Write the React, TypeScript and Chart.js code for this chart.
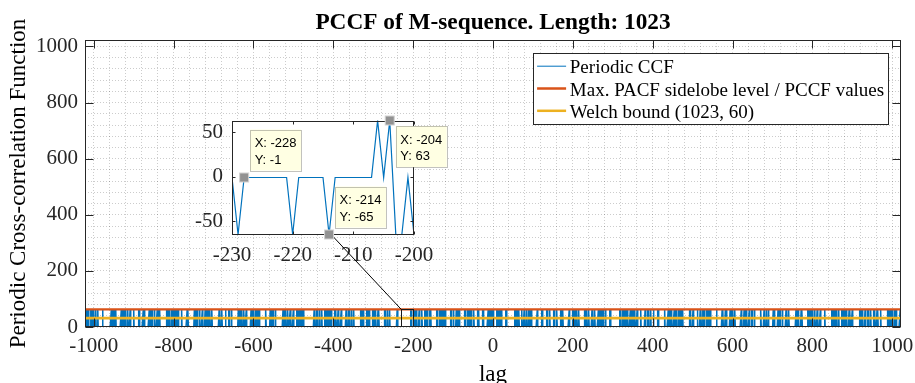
import React, { useEffect, useRef } from "react";
import { Chart, registerables } from "chart.js";

Chart.register(...registerables);

// ---------- data ----------
const LAG_MIN = -1022;
const LAG_MAX = 1022;

// Periodic CCF of the M-sequence pair, one symbol per lag starting at LAG_MIN.
// '0' = -1, '-' = -65, '+' = 63 (groups of ten lags, spaces are only for reading)
const CCF_ROWS = [
  "0+0+00-0+0 0-00+0+000 +0+0-00+00 00+0-00000 0000+00-00",
  "00000-0000 -00000+0+0 0+-0+00+0- 000-000000 0+0+00-0+0",
  "+0+0-00+00 000+000-00 00+0-00000 0-00+0+000 -00000+0+0",
  "000-000000 0+0+00-0+0 0000+00-00 0+-0+00+0- 00000-0000",
  "0-00+0+000 +0+0-00+00 0+0+00-0+0 000+000-00 00+0-00000",
  "-00000+0+0 00000-0000 0-00+0+000 +0+0-00+00 0000+00-00",
  "0+-0+00+0- 0+0+00-0+0 000-000000 -00000+0+0 000+000-00",
  "00+0-00000 +0+0-00+00 00000-0000 0-00+0+000 0+0+00-0+0",
  "0000+00-00 -00000+0+0 0+0+00-0+0 0+-0+00+0- 000-000000",
  "000+000-00 0-00+0+000 +0+0-00+00 00000-0000 -00000+0+0",
  "0+0+00-0+0 0000+00-00 00+0-00000 +0+0-00+00 0+-0+00+0-",
  "00000-0000 000-000000 0-00+0+000 0+0+00-0+0 000+000-00",
  "+0+0-00+00 0+-0+00+0- -00000+0+0 0000+00-00 00+0-00000",
  "0-00+0+000 0+0+00-0+0 000+000-00 000-000000 +0+0-00+00",
  "-00000+0+0 00+0-00000 0+-0+00+0- 0-00+0+000 00000-0000",
  "0+0+00-0+0 000+000-00 000-000000 00+0-00000 000-000000",
  "00-00000-0 000000+0+- -0-+0+0-00 +000000+00 -000+0-000",
  "0+-0+00+0- 0-00+0+000 00000-0000 0+0+00-0+0 +0+0-00+00",
  "00+0-00000 -00000+0+0 000+000-00 +0+0-00+00 000-000000",
  "0+0+00-0+0 0+-0+00+0- 0000+00-00 0-00+0+000 -00000+0+0",
  "00000-0000 +0+0-00+00 00+0-00000 0+0+00-0+0 000+000-00",
  "0-00+0+000 000-000000 -00000+0+0 0+-0+00+0- 0000+00-00",
  "+0+0-00+00 0+0+00-0+0 00000-0000 000+000-00 0-00+0+000",
  "-00000+0+0 0000+00-00 0-00+0+000 00+0-00000 0+-0+00+0-",
  "000-000000 000+000-00 0+0+00-0+0 +0+0-00+00 00000-0000",
  "0+-0+00+0- 00+0-00000 +0+0-00+00 -00000+0+0 0+0+00-0+0",
  "0000+00-00 0-00+0+000 000-000000 00000-0000 +0+0-00+00",
  "0+0+00-0+0 -00000+0+0 0+-0+00+0- 000+000-00 00+0-00000",
  "000+000-00 +0+0-00+00 0000+00-00 0-00+0+000 000-000000",
  "00+0-00000 0+0+00-0+0 -00000+0+0 +0+0-00+00 0+-0+00+0-",
  "00000-0000 0-00+0+000 000+000-00 0000+00-00 0+0+00-0+0",
  "+0+0-00+00 0+-0+00+0- 000-000000 00+0-00000 -00000+0+0",
  "0-00+0+000 -00000+0+0 0+0+00-0+0 00000-0000 0000+00-00",
  "0+-0+00+0- 0000+00-00 +0+0-00+00 000-000000 000+000-00",
  "0+0+00-0+0 00+0-00000 0-00+0+000 -00000+0+0 +0+0-00+00",
  "-00000+0+0 000+000-00 00000-0000 0+-0+00+0- 0-00+0+000",
  "000-000000 +0+0-00+00 0+0+00-0+0 0000+00-00 00+0-00000",
  "000+000-00 00000-0000 0+-0+00+0- 0+0+00-0+0 -00000+0+0",
  "+0+0-00+00 0-00+0+000 00+0-00000 000-000000 0+-0+00+0-",
  "0000+00-00 0+0+00-0+0 -00000+0+0 0-00+0+000 000+000-00",
  "00000-0000 +0+0-00+00 0+0+00-0+0 00+0-00000 00+0-",
];
const CCF_LEVELS: Record<string, number> = { "0": -1, "-": -65, "+": 63 };

const MAX_SIDELOBE = 63;
const WELCH_BOUND = 31.72;

const X_TICKS = [-1000, -800, -600, -400, -200, 0, 200, 400, 600, 800, 1000];
const Y_TICKS = [0, 200, 400, 600, 800, 1000];
const MINOR_STEP = 40;

const INSET_X_RANGE = [-230, -200];
const INSET_Y_RANGE = [-65, 63];
const INSET_X_TICKS = [-230, -220, -210, -200];
const INSET_Y_TICKS = [-50, 0, 50];

const DATATIP_LAGS = [-228, -214, -204];
const DATATIP_SIDES = ["above", "above", "below"];

const TITLE = "PCCF of M-sequence. Length: 1023";
const X_LABEL = "lag";
const Y_LABEL = "Periodic Cross-correlation Function";
const LEGEND_LABELS = [
  "Periodic CCF",
  "Max. PACF sidelobe level / PCCF values",
  "Welch bound (1023, 60)",
];

// ---------- styling / layout ----------
const W = 915;
const H = 383;
const PLOT = { left: 85, right: 901, top: 40, bottom: 327 };
const INSET = { left: 232, right: 414, top: 120.5, bottom: 234.5 };
const SERIF = "'Liberation Serif', 'Times New Roman', serif";
const SANS = "'Liberation Sans', Arial, sans-serif";
const BLUE = "#0072BD";
const RED = "#D95319";
const YELLOW = "#EDB120";
const AXIS_COLOR = "#262626";
const GRID_COLOR = "rgba(0,0,0,0.2)";

const ccfCodes = CCF_ROWS.join("").replace(/\s/g, "");
const ccfPoints = Array.from(ccfCodes, (c, i) => ({ x: LAG_MIN + i, y: CCF_LEVELS[c] }));
const ccfAt = (lag: number) => ccfPoints[lag - LAG_MIN].y;

const gridValues = (from: number, to: number) => {
  const out: number[] = [];
  for (let v = from; v <= to; v += MINOR_STEP) out.push(v);
  return out;
};
const X_GRID = gridValues(X_TICKS[0], X_TICKS[X_TICKS.length - 1]);
const Y_GRID = gridValues(Y_TICKS[0], Y_TICKS[Y_TICKS.length - 1]);

const crisp = (v: number) => Math.round(v) + 0.5;

// keep tick labels from pushing the plot area inwards
const fixHeight = (h: number) => (s: any) => {
  s.height = h;
  s.paddingLeft = 0;
  s.paddingRight = 0;
};
const fixWidth = (w: number) => (s: any) => {
  s.width = w;
  s.paddingTop = 0;
  s.paddingBottom = 0;
};

function drawBoxWithTicks(chart: any, xTicks: number[], yTicks: number[], len: number) {
  const { ctx, chartArea: a, scales } = chart;
  const l = crisp(a.left), r = crisp(a.right) - 1, t = crisp(a.top), b = crisp(a.bottom) - 1;
  ctx.save();
  ctx.strokeStyle = AXIS_COLOR;
  ctx.lineWidth = 1;
  ctx.beginPath();
  for (const v of xTicks) {
    const px = crisp(scales.x.getPixelForValue(v));
    ctx.moveTo(px, b); ctx.lineTo(px, b - len);
    ctx.moveTo(px, t); ctx.lineTo(px, t + len);
  }
  for (const v of yTicks) {
    const py = crisp(scales.y.getPixelForValue(v));
    ctx.moveTo(l, py); ctx.lineTo(l + len, py);
    ctx.moveTo(r, py); ctx.lineTo(r - len, py);
  }
  ctx.stroke();
  ctx.strokeRect(l, t, r - l, b - t);
  ctx.restore();
}

export default function App() {
  const mainRef = useRef<HTMLCanvasElement>(null);
  const insetRef = useRef<HTMLCanvasElement>(null);

  useEffect(() => {
    if (!mainRef.current || !insetRef.current) return;

    const lineSets = [
      { label: LEGEND_LABELS[0], data: ccfPoints, borderColor: BLUE, borderWidth: 1.5, order: 3 },
      {
        label: LEGEND_LABELS[1],
        data: [{ x: LAG_MIN, y: MAX_SIDELOBE }, { x: LAG_MAX, y: MAX_SIDELOBE }],
        borderColor: RED, borderWidth: 2.4, order: 1,
      },
      {
        label: LEGEND_LABELS[2],
        data: [{ x: LAG_MIN, y: WELCH_BOUND }, { x: LAG_MAX, y: WELCH_BOUND }],
        borderColor: YELLOW, borderWidth: 2.8, order: 2,
      },
    ];

    const mainDecor = {
      id: "mainDecor",
      beforeDraw(chart: any) {
        const { ctx } = chart;
        ctx.save();
        ctx.fillStyle = "#ffffff";
        ctx.fillRect(0, 0, chart.width, chart.height);
        ctx.restore();
      },
      afterDraw(chart: any) {
        const { ctx, chartArea: a, scales } = chart;
        // zoomed region marker
        ctx.save();
        ctx.beginPath();
        ctx.rect(a.left, a.top, a.right - a.left, a.bottom - a.top);
        ctx.clip();
        const zx0 = scales.x.getPixelForValue(INSET_X_RANGE[0]);
        const zx1 = scales.x.getPixelForValue(INSET_X_RANGE[1]);
        const zy0 = scales.y.getPixelForValue(INSET_Y_RANGE[1]);
        const zy1 = scales.y.getPixelForValue(INSET_Y_RANGE[0]);
        ctx.strokeStyle = "#1a1a1a";
        ctx.lineWidth = 1;
        ctx.strokeRect(crisp(zx0), crisp(zy0), Math.round(zx1 - zx0), Math.round(zy1 - zy0));
        ctx.restore();

        drawBoxWithTicks(chart, X_TICKS, Y_TICKS, 8);

        // legend
        ctx.save();
        ctx.font = `19px ${SERIF}`;
        const tw = Math.max(...LEGEND_LABELS.map((t) => ctx.measureText(t).width));
        const boxW = 4.3 + 29 + 3.7 + tw + 3.5;
        const boxH = 70.6;
        const right = a.right - 13.3;
        const left = right - boxW;
        const top = a.top + 12.7;
        ctx.fillStyle = "#ffffff";
        ctx.fillRect(left, top, boxW, boxH);
        ctx.strokeStyle = AXIS_COLOR;
        ctx.lineWidth = 1;
        ctx.strokeRect(crisp(left), crisp(top), Math.round(boxW), Math.round(boxH));
        lineSets.forEach((ds, i) => {
          const ly = top + 13.5 + i * 22.3;
          ctx.strokeStyle = ds.borderColor;
          ctx.lineWidth = i === 0 ? 1 : 2.5;
          ctx.beginPath();
          ctx.moveTo(left + 4.3, ly);
          ctx.lineTo(left + 33.3, ly);
          ctx.stroke();
          ctx.fillStyle = "#000000";
          ctx.textBaseline = "alphabetic";
          ctx.textAlign = "left";
          ctx.fillText(ds.label, left + 37, top + 20.7 + i * 22.3);
        });
        ctx.restore();
      },
    };

    const main = new Chart(mainRef.current, {
      type: "line",
      data: {
        datasets: lineSets.map((d) => ({ ...d, pointRadius: 0, fill: false, tension: 0 })),
      },
      options: {
        animation: false,
        responsive: false,
        devicePixelRatio: 1,
        events: [],
        layout: { padding: { left: 0, right: W - PLOT.right, top: 0, bottom: 0 } },
        plugins: {
          legend: { display: false },
          tooltip: { enabled: false },
          title: {
            display: true,
            text: TITLE,
            fullSize: false,
            color: "#000000",
            font: { family: SERIF, size: 23.3, weight: "bold", lineHeight: 1.2 },
            padding: { top: 9, bottom: PLOT.top - 9 - 27.96 },
          },
        },
        scales: {
          x: {
            type: "linear",
            min: LAG_MIN,
            max: LAG_MAX,
            afterBuildTicks: (s: any) => { s.ticks = X_GRID.map((value) => ({ value })); },
            afterFit: fixHeight(H - PLOT.bottom),
            ticks: {
              autoSkip: false, maxRotation: 0, minRotation: 0, padding: 7,
              color: AXIS_COLOR, font: { family: SERIF, size: 21 },
              callback: (v: any) => (X_TICKS.includes(Number(v)) ? String(v) : ""),
            },
            grid: { color: GRID_COLOR, lineWidth: 1, drawTicks: false },
            border: { display: false, dash: [1, 2] },
            title: {
              display: true, text: X_LABEL, color: "#000000",
              font: { family: SERIF, size: 23 }, padding: { top: 0, bottom: -5.4 },
            },
          },
          y: {
            type: "linear",
            min: 0,
            max: 1023,
            afterBuildTicks: (s: any) => { s.ticks = Y_GRID.map((value) => ({ value })); },
            afterFit: fixWidth(PLOT.left),
            ticks: {
              autoSkip: false, padding: 7,
              color: AXIS_COLOR, font: { family: SERIF, size: 21 },
              callback: (v: any) => (Y_TICKS.includes(Number(v)) ? String(v) : ""),
            },
            grid: { color: GRID_COLOR, lineWidth: 1, drawTicks: false },
            border: { display: false, dash: [1, 2] },
            title: {
              display: true, text: Y_LABEL, color: "#000000",
              font: { family: SERIF, size: 23 }, padding: { top: 5.1, bottom: 0 },
            },
          },
        },
      } as any,
      plugins: [mainDecor],
    });

    const insetDecor = {
      id: "insetDecor",
      beforeDraw(chart: any) {
        const { ctx, chartArea: a } = chart;
        ctx.save();
        ctx.fillStyle = "#ffffff";
        ctx.fillRect(a.left, a.top, a.right - a.left, a.bottom - a.top);
        ctx.restore();
      },
      afterDraw(chart: any) {
        const { ctx, scales } = chart;
        drawBoxWithTicks(chart, INSET_X_TICKS, INSET_Y_TICKS, 3);

        // connector from the inset to the marked region
        ctx.save();
        ctx.strokeStyle = "#000000";
        ctx.lineWidth = 1;
        ctx.beginPath();
        ctx.moveTo(scales.x.getPixelForValue(-213.5), scales.y.getPixelForValue(INSET_Y_RANGE[0]) + 1);
        ctx.lineTo(
          main.scales.x.getPixelForValue(INSET_X_RANGE[0]),
          main.scales.y.getPixelForValue(INSET_Y_RANGE[1])
        );
        ctx.stroke();
        ctx.restore();

        // data tips
        ctx.save();
        ctx.font = `13px ${SANS}`;
        DATATIP_LAGS.forEach((lag, i) => {
          const value = ccfAt(lag);
          const px = scales.x.getPixelForValue(lag);
          const py = scales.y.getPixelForValue(value);
          const lines = [`X: ${lag}`, `Y: ${value}`];
          const bw = Math.max(...lines.map((t) => ctx.measureText(t).width)) + 9;
          const bh = 41;
          const bl = px + 6;
          const bt = DATATIP_SIDES[i] === "above" ? py - 7 - bh : py + 5.5;
          ctx.fillStyle = "#FFFFE3";
          ctx.fillRect(bl, bt, bw, bh);
          ctx.strokeStyle = "rgba(120,120,110,0.45)";
          ctx.lineWidth = 1;
          ctx.strokeRect(crisp(bl), crisp(bt), Math.round(bw), Math.round(bh));
          ctx.fillStyle = "#000000";
          ctx.textAlign = "left";
          ctx.textBaseline = "alphabetic";
          ctx.fillText(lines[0], bl + 4.5, bt + 17.5);
          ctx.fillText(lines[1], bl + 4.5, bt + 34);
          // marker
          ctx.fillStyle = "#929292";
          ctx.fillRect(px - 4.5, py - 4.5, 9, 9);
          ctx.strokeStyle = "#d2d2d2";
          ctx.strokeRect(px - 4.5, py - 4.5, 9, 9);
        });
        ctx.restore();
      },
    };

    const inset = new Chart(insetRef.current, {
      type: "line",
      data: {
        datasets: [
          {
            label: LEGEND_LABELS[0],
            data: ccfPoints.filter((p) => p.x >= INSET_X_RANGE[0] - 1 && p.x <= INSET_X_RANGE[1] + 1),
            borderColor: BLUE,
            borderWidth: 1.2,
            pointRadius: 0,
            fill: false,
            tension: 0,
          },
        ],
      },
      options: {
        animation: false,
        responsive: false,
        devicePixelRatio: 1,
        events: [],
        layout: { padding: { left: 0, right: W - INSET.right, top: INSET.top, bottom: 0 } },
        plugins: { legend: { display: false }, tooltip: { enabled: false }, title: { display: false } },
        scales: {
          x: {
            type: "linear",
            min: INSET_X_RANGE[0],
            max: INSET_X_RANGE[1],
            afterBuildTicks: (s: any) => { s.ticks = INSET_X_TICKS.map((value) => ({ value })); },
            afterFit: fixHeight(H - INSET.bottom),
            ticks: {
              autoSkip: false, maxRotation: 0, minRotation: 0, padding: 7.9,
              color: AXIS_COLOR, font: { family: SERIF, size: 21 },
              callback: (v: any) => String(v),
            },
            grid: { display: false, drawTicks: false },
            border: { display: false },
          },
          y: {
            type: "linear",
            min: INSET_Y_RANGE[0],
            max: INSET_Y_RANGE[1],
            afterBuildTicks: (s: any) => { s.ticks = INSET_Y_TICKS.map((value) => ({ value })); },
            afterFit: fixWidth(INSET.left),
            ticks: {
              autoSkip: false, padding: 9,
              color: AXIS_COLOR, font: { family: SERIF, size: 21 },
              callback: (v: any) => String(v),
            },
            grid: { display: false, drawTicks: false },
            border: { display: false },
          },
        },
      } as any,
      plugins: [insetDecor],
    });

    return () => {
      inset.destroy();
      main.destroy();
    };
  }, []);

  return (
    <div
      style={{
        position: "fixed", left: 0, top: 0, width: W, height: H,
        overflow: "hidden", background: "#ffffff",
      }}
    >
      <canvas ref={mainRef} width={W} height={H} style={{ position: "absolute", left: 0, top: 0 }} />
      <canvas ref={insetRef} width={W} height={H} style={{ position: "absolute", left: 0, top: 0 }} />
    </div>
  );
}
